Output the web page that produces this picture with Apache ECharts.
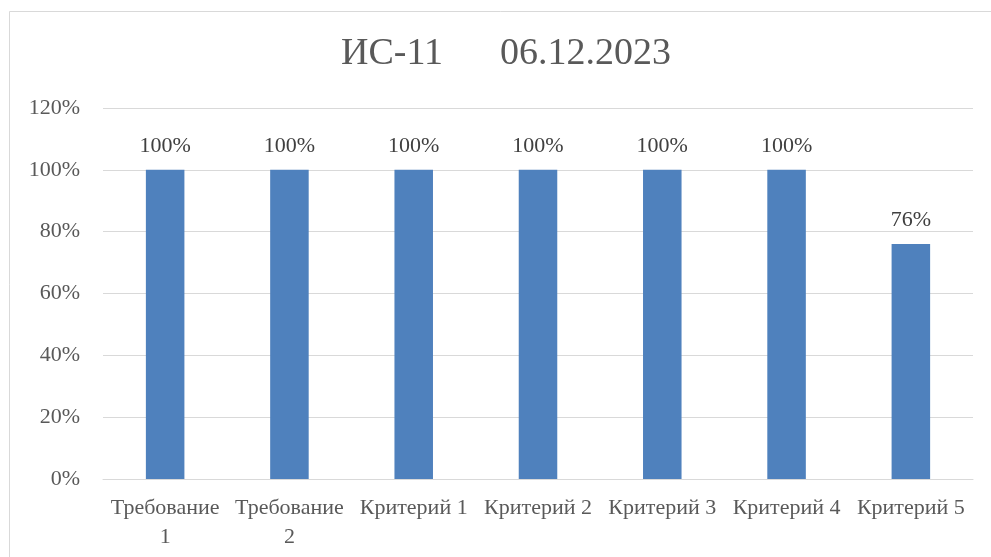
<!DOCTYPE html>
<html>
<head>
<meta charset="utf-8">
<script src="https://cdn.jsdelivr.net/npm/echarts@6/dist/echarts.min.js"></script>
<style>
  html, body { margin: 0; padding: 0; background: #fff; }
  #chart { width: 991px; height: 557px; }
</style>
</head>
<body>
<div id="chart"></div>
<script>
// подписи категорий и значения (доля выполнения, %)
const categories = ['Требование 1', 'Требование 2', 'Критерий 1', 'Критерий 2', 'Критерий 3', 'Критерий 4', 'Критерий 5'];
const values = [100, 100, 100, 100, 100, 100, 76];
const titleText = 'ИС-11      06.12.2023';

const serif = '"Liberation Serif", "DejaVu Serif", serif';
const chart = echarts.init(document.getElementById('chart'));

chart.setOption({
  animation: false,
  backgroundColor: '#fff',
  title: {
    text: titleText,
    left: 336,
    top: 30,
    textStyle: { fontFamily: serif, fontSize: 38, fontWeight: 'normal', color: '#595959' }
  },
  graphic: [{
    type: 'rect',
    shape: { x: 9.5, y: 11.5, width: 1000, height: 600 },
    style: { fill: 'none', stroke: '#d9d9d9', lineWidth: 1 },
    silent: true
  }],
  grid: { left: 103, right: 18, top: 108, bottom: 78 },
  xAxis: {
    type: 'category',
    data: categories,
    axisLine: { lineStyle: { color: '#d9d9d9', width: 1 } },
    axisTick: { show: false },
    axisLabel: {
      interval: 0,
      margin: 15,
      lineHeight: 29,
      fontFamily: serif,
      fontSize: 22,
      color: '#595959',
      // длинные подписи переносятся, как в Excel
      formatter: v => v.length > 11 ? v.replace(' ', '\n') : v
    }
  },
  yAxis: {
    type: 'value',
    min: 0,
    max: 120,
    interval: 20,
    axisLine: { show: false },
    axisTick: { show: false },
    splitLine: { lineStyle: { color: '#d9d9d9', width: 1 } },
    axisLabel: {
      formatter: '{value}%',
      margin: 23,
      fontFamily: serif,
      fontSize: 22,
      color: '#595959'
    }
  },
  series: [{
    type: 'bar',
    data: values,
    barWidth: '31%',
    itemStyle: { color: '#4f81bd' },
    label: {
      show: true,
      position: 'top',
      distance: 13,
      formatter: '{c}%',
      fontFamily: serif,
      fontSize: 22,
      color: '#404040'
    }
  }]
});
</script>
</body>
</html>
